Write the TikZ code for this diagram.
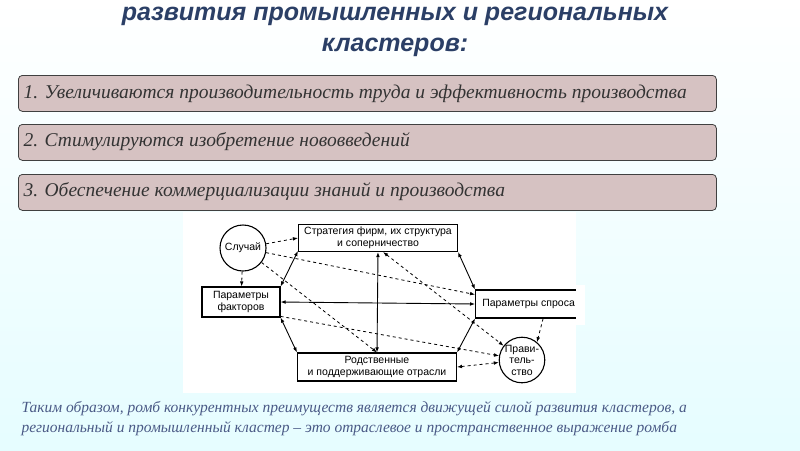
\documentclass[tikz,border=0pt]{standalone}
\usepackage{fontspec}
\setmainfont{Liberation Serif}
\setsansfont{Liberation Sans}
\usetikzlibrary{arrows.meta}
\definecolor{ttl}{HTML}{2B3F66}
\definecolor{boxf}{HTML}{D6C2C2}
\definecolor{btxt}{HTML}{4A5A86}
\begin{document}
\begin{tikzpicture}[x=1pt,y=-1pt,
  item/.style={draw=black!75,fill=boxf,rounded corners=4pt,line width=0.8pt,minimum height=36pt,minimum width=698pt,anchor=north west,inner sep=0},
  itxt/.style={anchor=west,font=\itshape\fontsize{19.5}{20}\selectfont,text=black!80},
  rbox/.style={draw,line width=1.1pt,fill=white,font=\sffamily\fontsize{10.5}{11.5}\selectfont,align=center,inner sep=0},
  rcirc/.style={draw,circle,line width=1.1pt,fill=white,font=\sffamily\fontsize{10.5}{11.5}\selectfont,align=center,inner sep=0},
  sol/.style={line width=0.9pt,{Latex[length=5pt]}-{Latex[length=5pt]}},
  dsh/.style={line width=0.8pt,dashed,-{Latex[length=5pt]}},
  dsh2/.style={line width=0.8pt,dashed,{Latex[length=5pt]}-{Latex[length=5pt]}}]
\useasboundingbox (0,0) rectangle (800,450);
\shade[top color=white,bottom color=blue!8!cyan!10!white] (0,0) rectangle (800,450);
\node[font=\sffamily\bfseries\itshape\fontsize{25}{25}\selectfont,text=ttl] (t1) at (395,16) {развития промышленных и региональных};
\node[font=\sffamily\bfseries\itshape\fontsize{25}{25}\selectfont,text=ttl] (t2) at (395,47) {кластеров:};
\node[item] (b1) at (18,75) {};
\node[itxt] at (20,94) {1. Увеличиваются производительность труда и эффективность производства};
\node[item] (b2) at (18,124) {};
\node[itxt] at (20,142) {2. Стимулируются изобретение нововведений};
\node[item] (b3) at (18,174) {};
\node[itxt] at (20,192) {3. Обеспечение коммерциализации знаний и производства};
\fill[white] (183,212) rectangle (576,393);
\node[rbox,minimum width=159pt,minimum height=27pt] (s) at (378,238) {Стратегия фирм, их структура\\и соперничество};
\node[rbox,minimum width=78pt,minimum height=30pt] (f) at (241,302) {Параметры\\факторов};
\node[rbox,minimum width=106pt,minimum height=28pt,anchor=west] (d) at (475,304) {Параметры спроса};
\node[rbox,minimum width=159pt,minimum height=28pt] (r) at (377,367) {Родственные\\и поддерживающие отрасли};
\node[rcirc,minimum size=46pt] (c) at (243,248) {Случай};
\node[rcirc,minimum size=42pt] (g) at (522,360) {Прави-\\тель-\\ство};
\fill[white] (576,285) rectangle (585,325);
\draw[sol] (s.south west) ++(0,-1) -- (f.north east);
\draw[sol] (s.south east) -- (d.north west);
\draw[sol] (s.south) -- (r.north);
\draw[sol] (f.east) -- (d.west);
\draw[sol] (f.south east) -- (r.north west);
\draw[sol] (d.south west) -- (r.north east);
\draw[dsh] (c) -- (s.west);
\draw[dsh] (c) -- (f);
\draw[dsh] (c) -- (d.170);
\draw[dsh] (c) -- (r.north);
\draw[dsh] (f.-20) -- (g);
\draw[dsh2] (s.-70) -- (g);
\draw[dsh] (d.-45) -- (g.50);
\draw[dsh2] (r.east) -- (g);
\node[anchor=north west,align=left,font=\itshape\fontsize{15.5}{20}\selectfont,text=btxt] (ft) at (18,398) {Таким образом, ромб конкурентных преимуществ является движущей силой развития кластеров, а\\региональный и промышленный кластер – это отраслевое и пространственное выражение ромба};
\end{tikzpicture}
\end{document}
